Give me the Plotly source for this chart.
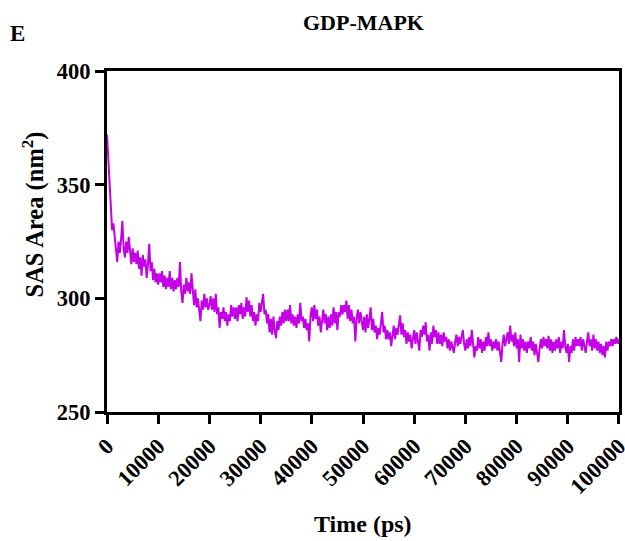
import numpy as np
import plotly.graph_objects as go

# Time grid (ps), 250 ps spacing
time_ps = np.arange(0, 100001, 250)

# SAS area values (nm^2), 20 values per 5000 ps
sas_area = [
    372, 362, 355, 343, 330, 333, 328, 321, 316, 325, 320, 326, 334, 322, 318, 325, 320, 327, 321, 315,
    322, 316, 320, 315, 321, 313, 318, 310, 319, 314, 317, 309, 315, 324, 312, 316, 308, 313, 307, 311,
    306, 311, 307, 312, 305, 310, 304, 309, 305, 312, 304, 309, 303, 308, 304, 309, 305, 316, 303, 298,
    306, 302, 309, 303, 307, 302, 311, 304, 297, 304, 296, 300, 293, 290, 299, 295, 302, 296, 300, 295,
    297, 301, 295, 300, 294, 302, 293, 296, 287, 294, 291, 296, 290, 294, 288, 293, 290, 297, 292, 296,
    291, 296, 290, 297, 293, 298, 291, 296, 292, 300.5, 294, 299, 292, 297, 290, 294, 288, 293, 290, 298,
    294, 299, 302, 293, 295, 289, 293, 285, 291, 284, 292, 286, 282.5, 290, 286, 292, 288, 294, 289, 295,
    290, 295, 290, 297, 289, 293, 288, 292, 287, 293, 289, 298, 290, 292, 287, 291, 286, 289, 281, 292,
    296, 290, 297, 291, 295, 288, 292, 285, 290, 295, 289, 293, 286, 292, 287, 293, 288, 296, 289, 294,
    286, 294, 292, 297, 293, 297, 294, 299, 291, 297, 290, 295, 289, 292, 281, 291, 295, 289, 294, 290,
    286, 292, 285, 293, 287, 291, 296, 286, 291, 285, 288, 282, 287, 284, 290, 294, 285, 288, 282, 286,
    282, 285, 279, 284, 288, 282, 287, 284, 289, 292.5, 284, 289, 283, 286, 280, 285, 281, 284, 278, 283,
    286, 280, 285, 281, 277, 286, 283, 288, 284, 289.5, 281, 284, 277, 285, 280, 288, 283, 286, 280, 285,
    280, 284, 279, 285, 281, 283, 278, 282, 277, 281, 278, 276, 281, 284, 279, 283, 280, 284, 286, 280,
    277, 282, 278, 283, 279, 286, 280, 274, 279, 277, 283, 278, 282, 276, 281, 277, 283, 279, 285, 279,
    282, 277, 281, 278, 282, 277, 281, 276, 272, 280, 284, 279, 283, 285, 280, 288, 281, 284, 279, 285,
    278, 282, 272, 284, 278, 282, 277, 281, 276, 281, 278, 283, 277, 281, 275, 280, 276, 272, 278, 282,
    278, 283, 279, 282, 278, 283.5, 277, 282, 276, 281, 277, 282, 278, 283, 276, 281, 278, 286, 279, 276,
    280, 272, 279, 276, 282, 277, 283, 279, 282, 279, 283, 277, 282, 278, 276, 281, 285, 279, 282, 277,
    284, 278, 282, 277, 281, 276, 280, 275, 279, 274, 281, 277, 281, 279, 282, 279, 282, 280, 283, 280,
    282,
]

x_ticks = [0, 10000, 20000, 30000, 40000, 50000, 60000, 70000, 80000, 90000, 100000]
y_ticks = [250, 300, 350, 400]

SERIF = "Liberation Serif, Times New Roman, serif"
LINE_COLOR = "#C400E6"

fig = go.Figure()
fig.add_trace(go.Scatter(
    x=time_ps, y=sas_area, mode="lines",
    line=dict(color=LINE_COLOR, width=2),
    showlegend=False, hoverinfo="skip", cliponaxis=False,
))

axis_common = dict(
    showline=True, linecolor="black", linewidth=3, mirror=True,
    ticks="outside", ticklen=9, tickwidth=3, tickcolor="black",
    showgrid=False, zeroline=False, automargin=False,
    tickfont=dict(family=SERIF, size=22.5, color="black", weight="bold"),
)

fig.update_xaxes(
    range=[0, 100001], tickvals=x_ticks, ticktext=[str(v) for v in x_ticks],
    tickangle=-45, ticklabeloverflow="allow", **axis_common,
)
fig.update_yaxes(
    range=[250, 400], tickvals=y_ticks, ticktext=[str(v) for v in y_ticks],
    **axis_common,
)

fig.update_layout(
    width=625, height=541,
    margin=dict(l=107, r=6, t=71, b=129),
    plot_bgcolor="white", paper_bgcolor="white",
    annotations=[
        dict(text="<b>GDP-MAPK</b>", xref="paper", yref="paper", x=0.5, y=1,
             xanchor="center", yanchor="bottom", yshift=34, showarrow=False,
             font=dict(family=SERIF, size=22, color="black")),
        dict(text="<b>E</b>", xref="paper", yref="paper", x=0, y=1,
             xanchor="left", yanchor="bottom", xshift=-99, yshift=23, showarrow=False,
             font=dict(family=SERIF, size=23, color="black")),
        dict(text="<b>Time (ps)</b>", xref="paper", yref="paper", x=0.5, y=0,
             xanchor="center", yanchor="middle", yshift=-112, showarrow=False,
             font=dict(family=SERIF, size=24, color="black")),
        dict(text="<b>SAS Area (nm<sup>2</sup>)</b>", xref="paper", yref="paper", x=0, y=0.5,
             xanchor="center", yanchor="middle", xshift=-74, yshift=27, textangle=-90,
             showarrow=False,
             font=dict(family=SERIF, size=24.5, color="black")),
    ],
)

fig.write_html("out.html")
